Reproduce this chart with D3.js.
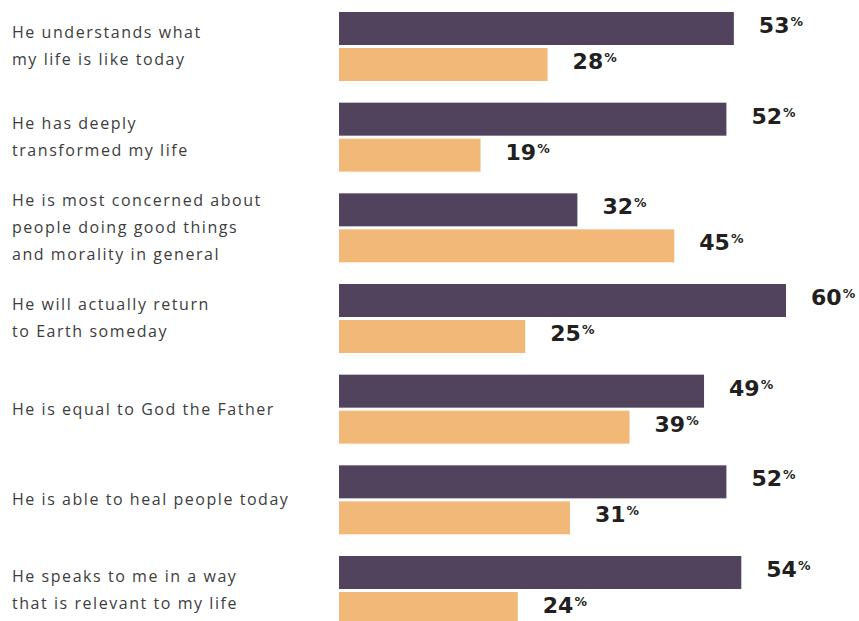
<!DOCTYPE html>
<html lang="en">
<head>
<meta charset="UTF-8">
<title>Beliefs about Jesus</title>
<style>
  body { margin: 0; background: #fff; }
  .cat-label { font-family: "Open Sans", sans-serif; font-size: 16px; fill: #3d3d3d; letter-spacing: 1.55px; }
  .val { font-family: "DejaVu Sans", sans-serif; font-weight: bold; font-size: 22px; fill: #231f20; }
  .pct { font-size: 12.5px; }
</style>
</head>
<body>
<script src="https://cdnjs.cloudflare.com/ajax/libs/d3/7.8.5/d3.min.js"></script>
<script>
// data
var categories = [
  ["He understands what", "my life is like today"],
  ["He has deeply", "transformed my life"],
  ["He is most concerned about", "people doing good things", "and morality in general"],
  ["He will actually return", "to Earth someday"],
  ["He is equal to God the Father"],
  ["He is able to heal people today"],
  ["He speaks to me in a way", "that is relevant to my life"]
];
var seriesKeys = ["dark", "light"];
var darkValues = [53, 52, 32, 60, 49, 52, 54];
var lightValues = [28, 19, 45, 25, 39, 31, 24];
var colors = { dark: "#51425d", light: "#f2b877" };

var width = 859, height = 621;

var svg = d3.select("body").append("svg")
    .attr("width", width)
    .attr("height", height);

var ids = d3.range(categories.length);

var x = d3.scaleLinear().domain([0, 60]).range([339, 786]);

var y = d3.scaleBand()
    .domain(ids)
    .range([12, 625])
    .paddingInner(0.239)
    .paddingOuter(0);

var ySub = d3.scaleBand()
    .domain(seriesKeys)
    .range([0, y.bandwidth()])
    .paddingInner(3 / 36)
    .paddingOuter(0);

var rows = ids.map(function(i) {
  return { i: i, lines: categories[i], values: { dark: darkValues[i], light: lightValues[i] } };
});

var group = svg.selectAll(".group")
    .data(rows)
    .enter().append("g")
    .attr("class", "group")
    .attr("transform", function(d) { return "translate(0," + y(d.i) + ")"; });

// category labels, centred on the group
var lineH = 27;
group.append("text")
    .attr("class", "cat-label")
    .selectAll("tspan")
    .data(function(d) { return d.lines.map(function(t, k) { return { t: t, k: k, n: d.lines.length }; }); })
    .enter().append("tspan")
    .attr("x", 12)
    .attr("y", function(d) { return y.bandwidth() / 2 + (d.k - (d.n - 1) / 2) * lineH + 5.5; })
    .text(function(d) { return d.t; });

// bars
var bars = group.selectAll(".bar")
    .data(function(d) { return seriesKeys.map(function(k) { return { key: k, value: d.values[k] }; }); })
    .enter();

bars.append("rect")
    .attr("class", "bar")
    .attr("x", x(0))
    .attr("y", function(d) { return ySub(d.key); })
    .attr("width", function(d) { return x(d.value) - x(0); })
    .attr("height", ySub.bandwidth())
    .attr("fill", function(d) { return colors[d.key]; });

// value labels
var val = bars.append("text")
    .attr("class", "val")
    .attr("x", function(d) { return x(d.value) + 25; })
    .attr("y", function(d) { return ySub(d.key) + ySub.bandwidth() / 2 + 4.5; });

val.append("tspan").text(function(d) { return d.value; });
val.append("tspan")
    .attr("class", "pct")
    .attr("dx", 1)
    .attr("dy", -7)
    .text("%");
</script>
</body>
</html>
